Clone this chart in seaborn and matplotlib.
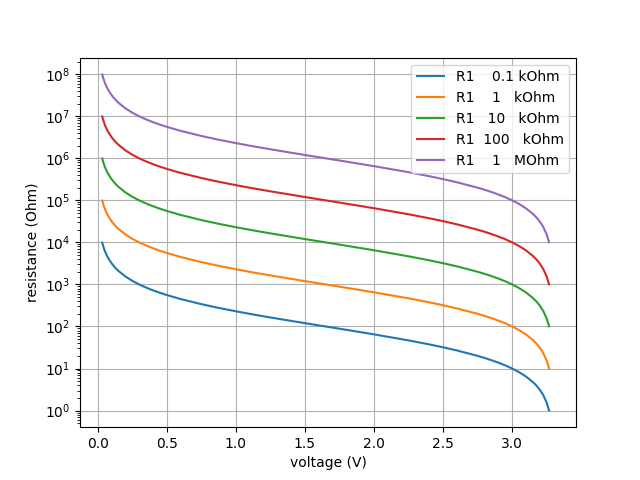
import matplotlib
matplotlib.use("Agg")
import matplotlib.pyplot as plt
import seaborn as sns
import pandas as pd

voltage = [0.033, 0.04, 0.05, 0.06, 0.075, 0.1, 0.125, 0.15, 0.2, 0.25, 0.3, 0.35, 0.4, 0.45,
           0.5, 0.6, 0.75, 0.875, 1.0, 1.125, 1.25, 1.5, 1.75, 2.0, 2.25, 2.4, 2.5, 2.6,
           2.75, 2.8, 2.85, 2.9, 2.95, 3.0, 3.05, 3.1, 3.15, 3.175, 3.2, 3.225, 3.25, 3.267]

r_01k = [9.9e3, 8.15e3, 6.5e3, 5.4e3, 4.3e3, 3.2e3, 2.54e3, 2.1e3, 1.55e3, 1.22e3, 1.0e3, 8.43e2,
         7.25e2, 6.33e2, 5.6e2, 4.5e2, 3.4e2, 2.77e2, 2.3e2, 1.93e2, 1.64e2, 1.2e2, 8.86e1, 6.5e1,
         4.67e1, 3.75e1, 3.2e1, 2.69e1, 2.0e1, 1.79e1, 1.58e1, 1.38e1, 1.19e1, 1.0e1, 8.2e0,
         6.45e0, 4.76e0, 3.94e0, 3.13e0, 2.33e0, 1.54e0, 1.01e0]
r_1k = [9.9e4, 8.15e4, 6.5e4, 5.4e4, 4.3e4, 3.2e4, 2.54e4, 2.1e4, 1.55e4, 1.22e4, 1.0e4, 8.43e3,
        7.25e3, 6.33e3, 5.6e3, 4.5e3, 3.4e3, 2.77e3, 2.3e3, 1.93e3, 1.64e3, 1.2e3, 8.86e2, 6.5e2,
        4.67e2, 3.75e2, 3.2e2, 2.69e2, 2.0e2, 1.79e2, 1.58e2, 1.38e2, 1.19e2, 1.0e2, 8.2e1,
        6.45e1, 4.76e1, 3.94e1, 3.13e1, 2.33e1, 1.54e1, 1.01e1]
r_10k = [9.9e5, 8.15e5, 6.5e5, 5.4e5, 4.3e5, 3.2e5, 2.54e5, 2.1e5, 1.55e5, 1.22e5, 1.0e5, 8.43e4,
         7.25e4, 6.33e4, 5.6e4, 4.5e4, 3.4e4, 2.77e4, 2.3e4, 1.93e4, 1.64e4, 1.2e4, 8.86e3, 6.5e3,
         4.67e3, 3.75e3, 3.2e3, 2.69e3, 2.0e3, 1.79e3, 1.58e3, 1.38e3, 1.19e3, 1.0e3, 8.2e2,
         6.45e2, 4.76e2, 3.94e2, 3.13e2, 2.33e2, 1.54e2, 1.01e2]
r_100k = [9.9e6, 8.15e6, 6.5e6, 5.4e6, 4.3e6, 3.2e6, 2.54e6, 2.1e6, 1.55e6, 1.22e6, 1.0e6, 8.43e5,
          7.25e5, 6.33e5, 5.6e5, 4.5e5, 3.4e5, 2.77e5, 2.3e5, 1.93e5, 1.64e5, 1.2e5, 8.86e4, 6.5e4,
          4.67e4, 3.75e4, 3.2e4, 2.69e4, 2.0e4, 1.79e4, 1.58e4, 1.38e4, 1.19e4, 1.0e4, 8.2e3,
          6.45e3, 4.76e3, 3.94e3, 3.13e3, 2.33e3, 1.54e3, 1.01e3]
r_1M = [9.9e7, 8.15e7, 6.5e7, 5.4e7, 4.3e7, 3.2e7, 2.54e7, 2.1e7, 1.55e7, 1.22e7, 1.0e7, 8.43e6,
        7.25e6, 6.33e6, 5.6e6, 4.5e6, 3.4e6, 2.77e6, 2.3e6, 1.93e6, 1.64e6, 1.2e6, 8.86e5, 6.5e5,
        4.67e5, 3.75e5, 3.2e5, 2.69e5, 2.0e5, 1.79e5, 1.58e5, 1.38e5, 1.19e5, 1.0e5, 8.2e4,
        6.45e4, 4.76e4, 3.94e4, 3.13e4, 2.33e4, 1.54e4, 1.01e4]

labels = ["R1    0.1 kOhm", "R1    1   kOhm", "R1   10   kOhm", "R1  100   kOhm", "R1    1   MOhm"]
series = [r_01k, r_1k, r_10k, r_100k, r_1M]

rows = []
for lab, vals in zip(labels, series):
    for v, r in zip(voltage, vals):
        rows.append({"voltage": v, "resistance": r, "series": lab})
df = pd.DataFrame(rows)

plt.rcParams.update(plt.rcParamsDefault)
fig, ax = plt.subplots(figsize=(6.4, 4.8), dpi=100)
sns.lineplot(data=df, x="voltage", y="resistance", hue="series", ax=ax,
             palette=["#1f77b4", "#ff7f0e", "#2ca02c", "#d62728", "#9467bd"],
             linewidth=1.5, sort=False)
ax.set_yscale("log")
ax.set_xlim(-0.128, 3.462)
ax.grid(True, which="major")
ax.set_xlabel("voltage (V)")
ax.set_ylabel("resistance (Ohm)")
handles, labs = ax.get_legend_handles_labels()
ax.legend(handles, labs, loc="upper right")
fig.savefig("out.png", dpi=100)
